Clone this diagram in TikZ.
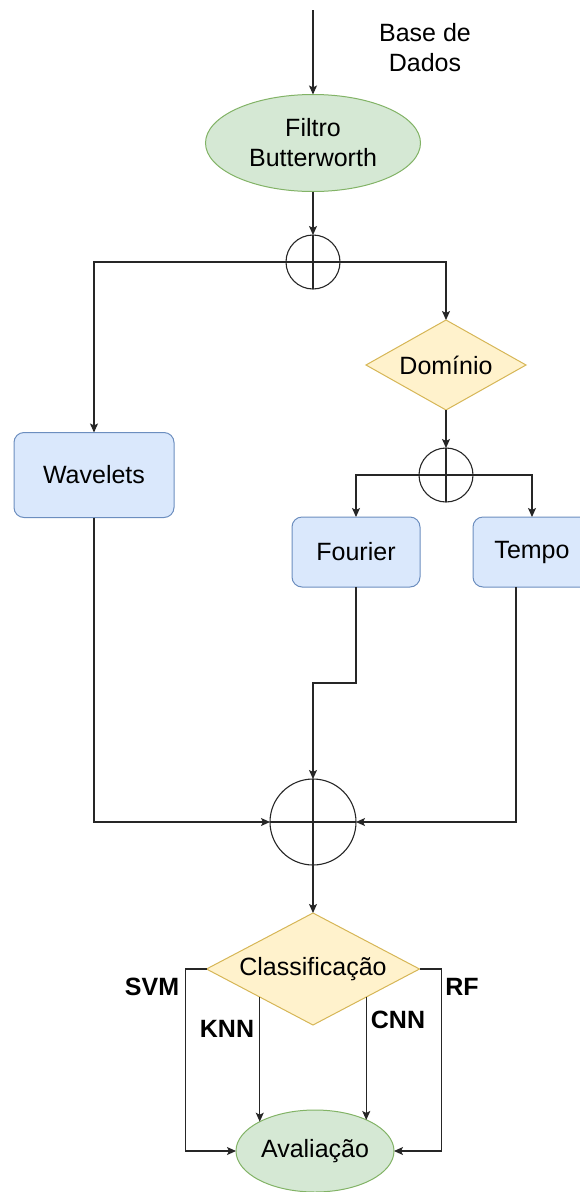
\documentclass[tikz,border=0pt]{standalone}
\usepackage{fontspec}
\setmainfont{Liberation Sans}
\usetikzlibrary{shapes.geometric,arrows.meta,calc}
\definecolor{greenfill}{HTML}{D5E8D4}
\definecolor{greenline}{HTML}{82B366}
\definecolor{bluefill}{HTML}{DAE8FC}
\definecolor{blueline}{HTML}{6C8EBF}
\definecolor{yellowfill}{HTML}{FFF2CC}
\definecolor{yellowline}{HTML}{D6B656}

\tikzset{
  base/.style={font=\fontsize{25}{30}\selectfont, align=center, inner sep=0pt, outer sep=0pt},
  oval/.style={base, ellipse, draw=greenline, fill=greenfill, line width=1pt},
  procbox/.style={base, rectangle, rounded corners=10pt, draw=blueline, fill=bluefill, line width=1pt},
  decision/.style={base, diamond, draw=yellowline, fill=yellowfill, line width=1pt},
  junction/.style={circle, draw=black!85, fill=white, inner sep=0pt, outer sep=0pt, line width=1.1pt},
  flow/.style={line width=1.1pt, draw=black!85},
  arr/.style={flow, -{Stealth[length=9pt,width=8pt,inset=2pt]}},
  lbl/.style={base, font=\fontsize{25}{30}\selectfont\bfseries},
}

\begin{document}
\begin{tikzpicture}[x=1pt,y=-1pt]
  \useasboundingbox (0,0) rectangle (579,1192);

  % nodes
  \coordinate (src) at (313,10);
  \node[base] (db) at (425,48) {Base de\\Dados};
  \node[oval, minimum width=215, minimum height=97] (filt) at (313,143) {Filtro\\Butterworth};
  \node[junction, minimum size=54] (j1) at (313,262) {};
  \node[decision, shape aspect=1.78, minimum width=160, minimum height=90] (dom) at (446,365) {Domínio};
  \node[procbox, minimum width=160, minimum height=85] (wav) at (94,475) {Wavelets};
  \node[junction, minimum size=54] (j2) at (446,475) {};
  \node[procbox, minimum width=128, minimum height=70] (four) at (356,552) {Fourier};
  \node[procbox, minimum width=118, minimum height=70] (tempo) at (532,552) {Tempo};
  \node[junction, minimum size=86] (j3) at (313,822) {};
  \node[decision, shape aspect=1.9, minimum width=213, minimum height=112] (cls) at (313,969) {Classificação};
  \node[oval, minimum width=158, minimum height=82] (aval) at (315,1151) {Avaliação};

  % crosses inside the junctions
  \foreach \j in {j1,j2,j3}
    \draw[flow] (\j.north) -- (\j.south) (\j.west) -- (\j.east);

  % connectors
  \draw[arr] (src) -- (filt.north);
  \draw[arr] (filt.south) -- (j1.north);
  \draw[arr] (j1.west) -| (wav.north);
  \draw[arr] (j1.east) -| (dom.north);
  \draw[arr] (dom.south) -- (j2.north);
  \draw[arr] (j2.west) -| (four.north);
  \draw[arr] (j2.east) -| (tempo.north);
  \draw[arr] (wav.south) |- (j3.west);
  \draw[arr] (four.south) -- ++(0,96) -| (j3.north);
  \draw[arr] ([xshift=-16pt]tempo.south) |- (j3.east);
  \draw[arr] (j3.south) -- (cls.north);
  \draw[arr] (cls.west) -- ++(-21,0) |- (aval.west);
  \draw[arr] (cls.east) -- ++(22,0) |- (aval.east);
  \draw[arr] (cls.south west) -- (cls.south west |- aval.152);
  \draw[arr] (cls.south east) -- (cls.south east |- aval.31);

  % classifier labels
  \node[lbl] (svm) at (152,987) {SVM};
  \node[lbl] (knn) at (227,1029) {KNN};
  \node[lbl] (cnn) at (398,1020) {CNN};
  \node[lbl] (rf) at (462,987) {RF};
\end{tikzpicture}
\end{document}
